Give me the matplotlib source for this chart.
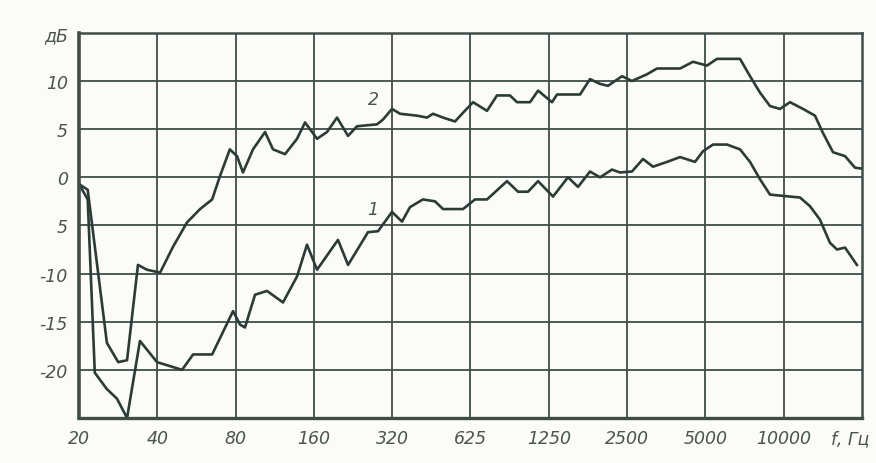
import matplotlib.pyplot as plt
import matplotlib.ticker as mticker

# curve 2 (upper) - frequency, Hz / level, dB
freq_2 = [20, 21.6, 25.6, 28.3, 30.6, 33.7, 36.5, 41, 46, 52, 58.4, 65, 69.6, 76, 81,
          85.4, 93.3, 103.8, 111.4, 123.9, 137.8, 147.9, 164.5, 179.6, 196.3, 216.5,
          234.3, 279.8, 295, 319.4, 343, 398.7, 435.5, 459.3, 502, 558, 599, 654.6,
          741, 809, 908, 966, 1084, 1164, 1317, 1377, 1688, 1843, 2015, 2162, 2448,
          2673, 3053, 3337, 4092, 4590, 5190, 5674, 6957, 7600, 8302, 9070, 9910,
          10827, 12150, 13510, 14500, 15850, 17620, 19250, 20480]
level_2 = [-0.7, -1.3, -17.2, -19.2, -19, -9.1, -9.6, -9.9, -7.2, -4.7, -3.3, -2.3, 0.1,
           2.9, 2.2, 0.5, 2.9, 4.7, 2.9, 2.4, 4, 5.7, 4, 4.7, 6.2, 4.3, 5.3, 5.5, 6, 7.1,
           6.6, 6.4, 6.2, 6.6, 6.2, 5.8, 6.7, 7.8, 6.9, 8.5, 8.5, 7.8, 7.8, 9.0, 7.8, 8.6,
           8.6, 10.2, 9.7, 9.5, 10.5, 10, 10.7, 11.3, 11.3, 12, 11.6, 12.3, 12.3, 10.5,
           8.8, 7.4, 7.1, 7.8, 7.1, 6.4, 4.6, 2.6, 2.2, 1.0, 0.9]

# curve 1 (lower)
freq_1 = [20, 21.6, 23, 25.6, 28, 30.6, 34.3, 39.9, 49.8, 54.9, 65, 78.2, 83.2, 86.9,
          95, 105.6, 121.7, 137.8, 150.5, 164.5, 198, 216.5, 258.3, 282.3, 319.4, 349,
          374.6, 420, 467.6, 502, 599, 666, 741, 884, 975, 1065, 1164, 1329, 1517,
          1658, 1843, 2015, 2240, 2404, 2673, 2947, 3220, 3645, 4092, 4670, 5010,
          5476, 6200, 6957, 7600, 8302, 9070, 10827, 11830, 12920, 14120, 15420,
          16420, 17620, 19580]
level_1 = [-0.7, -2.3, -20.3, -22, -23, -25, -17, -19.2, -20, -18.4, -18.4, -13.9, -15.3,
           -15.6, -12.2, -11.8, -13, -10.3, -7, -9.6, -6.5, -9.1, -5.7, -5.6, -3.6, -4.6,
           -3.1, -2.3, -2.5, -3.3, -3.3, -2.3, -2.3, -0.4, -1.5, -1.5, -0.4, -2, 0, -1,
           0.6, 0, 0.8, 0.5, 0.6, 1.9, 1.1, 1.6, 2.1, 1.6, 2.7, 3.4, 3.4, 2.9, 1.6, -0.2,
           -1.8, -2, -2.1, -3, -4.4, -6.8, -7.5, -7.3, -9.1]

x_ticks = [20, 40, 80, 160, 320, 640, 1280, 2560, 5120, 10240]
x_labels = ['20', '40', '80', '160', '320', '625', '1250', '2500', '5000', '10000']
y_ticks = [15, 10, 5, 0, -5, -10, -15, -20]
y_labels = ['дБ', '10', '5', '0', '5', '-10', '-15', '-20']

ink = '#2b3b36'
grid_ink = '#3f4d49'
font = dict(family='DejaVu Sans', style='italic', fontsize=12.5, color='#4a5552')

fig = plt.figure(figsize=(8.76, 4.64), dpi=100, facecolor='#fbfbf7')
ax = fig.add_axes([0.0902, 0.097, 0.8938, 0.830])
ax.set_facecolor('#fbfbf7')

ax.set_xscale('log', base=2)
ax.set_xlim(20, 20480)
ax.set_ylim(-25, 15)

ax.plot(freq_2, level_2, color=ink, lw=1.9, solid_joinstyle='round')
ax.plot(freq_1, level_1, color=ink, lw=1.9, solid_joinstyle='round')

ax.text(270, 8.1, '2', ha='center', va='center', **font)
ax.text(268, -3.3, '1', ha='center', va='center', **font)

ax.xaxis.set_major_locator(mticker.FixedLocator(x_ticks))
ax.xaxis.set_minor_locator(mticker.NullLocator())
ax.set_xticks(x_ticks)
ax.set_xticklabels(x_labels, **font)
ax.set_yticks(y_ticks)
ax.set_yticklabels(y_labels, **font)
ax.tick_params(length=0, pad=8)

ax.grid(True, color=grid_ink, lw=1.3)
ax.set_axisbelow(True)
for side in ax.spines.values():
    side.set_color(grid_ink)
    side.set_linewidth(1.8)
ax.spines['left'].set_linewidth(2.6)
ax.spines['bottom'].set_linewidth(2.4)

ax.text(1.01, -0.052, 'f, Гц', transform=ax.transAxes, ha='right', va='center', **font)

fig.savefig('out.png', dpi=100, facecolor=fig.get_facecolor())
